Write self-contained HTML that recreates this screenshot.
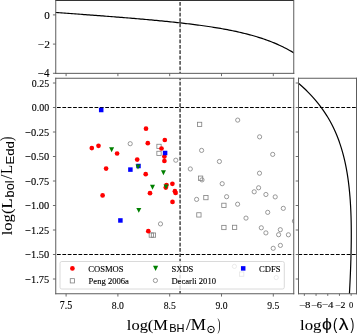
<!DOCTYPE html><html><head><meta charset="utf-8"><title>log(Lbol/LEdd) vs log(MBH/Msun)</title><style>html,body{margin:0;padding:0;background:#fff;overflow:hidden;}svg{display:block;will-change:transform;}</style></head><body>
<svg width="357" height="334" viewBox="0 0 357 334">
<rect x="0" y="0" width="357" height="334" fill="#fff"/>
<defs>
<clipPath id="cm"><rect x="55.75" y="78.25" width="238.00" height="215.50"/></clipPath>
<clipPath id="ct"><rect x="55.75" y="0" width="238.00" height="73.35"/></clipPath>
<clipPath id="cr"><rect x="298.5" y="78.25" width="58.00" height="215.50"/></clipPath>
</defs>
<g clip-path="url(#ct)">
<polyline points="54.50,12.39 56.23,12.51 57.96,12.64 59.69,12.76 61.42,12.88 63.15,13.01 64.88,13.13 66.61,13.26 68.34,13.39 70.07,13.51 71.80,13.64 73.52,13.76 75.25,13.89 76.98,14.02 78.71,14.14 80.44,14.27 82.17,14.40 83.90,14.53 85.63,14.65 87.36,14.78 89.09,14.91 90.82,15.04 92.55,15.17 94.27,15.30 96.00,15.43 97.73,15.56 99.46,15.69 101.19,15.83 102.92,15.96 104.65,16.09 106.38,16.23 108.11,16.36 109.84,16.49 111.57,16.63 113.30,16.77 115.02,16.90 116.75,17.04 118.48,17.18 120.21,17.32 121.94,17.45 123.67,17.59 125.40,17.74 127.13,17.88 128.86,18.02 130.59,18.16 132.32,18.31 134.04,18.45 135.77,18.60 137.50,18.75 139.23,18.90 140.96,19.05 142.69,19.20 144.42,19.35 146.15,19.50 147.88,19.66 149.61,19.81 151.34,19.97 153.07,20.13 154.79,20.29 156.52,20.45 158.25,20.62 159.98,20.78 161.71,20.95 163.44,21.12 165.17,21.29 166.90,21.46 168.63,21.64 170.36,21.82 172.09,22.00 173.82,22.18 175.54,22.36 177.27,22.55 179.00,22.74 180.73,22.93 182.46,23.13 184.19,23.33 185.92,23.53 187.65,23.74 189.38,23.94 191.11,24.16 192.84,24.37 194.57,24.59 196.29,24.81 198.02,25.04 199.75,25.27 201.48,25.51 203.21,25.75 204.94,25.99 206.67,26.24 208.40,26.50 210.13,26.76 211.86,27.02 213.59,27.30 215.32,27.57 217.04,27.86 218.77,28.15 220.50,28.44 222.23,28.75 223.96,29.06 225.69,29.38 227.42,29.70 229.15,30.04 230.88,30.38 232.61,30.73 234.34,31.09 236.06,31.46 237.79,31.84 239.52,32.23 241.25,32.64 242.98,33.05 244.71,33.47 246.44,33.91 248.17,34.35 249.90,34.81 251.63,35.29 253.36,35.78 255.09,36.28 256.81,36.80 258.54,37.33 260.27,37.88 262.00,38.44 263.73,39.03 265.46,39.63 267.19,40.25 268.92,40.89 270.65,41.55 272.38,42.23 274.11,42.93 275.84,43.66 277.56,44.41 279.29,45.19 281.02,45.99 282.75,46.82 284.48,47.67 286.21,48.55 287.94,49.47 289.67,50.41 291.40,51.39 293.13,52.40 294.86,53.45" fill="none" stroke="#000" stroke-width="1.2" stroke-linejoin="round"/>
<line x1="180.06" y1="0.00" x2="180.06" y2="73.35" stroke="#000" stroke-width="1.1" stroke-dasharray="3.748 1.614" stroke-dashoffset="3.320"/>
</g>
<g clip-path="url(#cr)">
<polyline points="349.33,295.62 349.38,294.62 349.44,293.62 349.49,292.62 349.54,291.61 349.59,290.61 349.65,289.61 349.70,288.61 349.75,287.61 349.80,286.61 349.85,285.61 349.89,284.61 349.94,283.61 349.99,282.61 350.04,281.61 350.08,280.61 350.13,279.61 350.17,278.61 350.22,277.61 350.26,276.61 350.30,275.61 350.35,274.61 350.39,273.61 350.43,272.61 350.47,271.61 350.51,270.61 350.55,269.61 350.58,268.61 350.62,267.61 350.66,266.61 350.69,265.61 350.73,264.61 350.76,263.61 350.79,262.61 350.82,261.60 350.86,260.60 350.89,259.60 350.92,258.60 350.94,257.60 350.97,256.60 351.00,255.60 351.02,254.60 351.05,253.60 351.07,252.60 351.09,251.60 351.11,250.60 351.13,249.60 351.15,248.60 351.17,247.60 351.19,246.60 351.20,245.60 351.22,244.60 351.23,243.60 351.24,242.60 351.25,241.60 351.26,240.60 351.27,239.60 351.28,238.60 351.28,237.60 351.28,236.60 351.29,235.60 351.29,234.60 351.29,233.60 351.29,232.60 351.28,231.59 351.28,230.59 351.27,229.59 351.26,228.59 351.25,227.59 351.24,226.59 351.23,225.59 351.21,224.59 351.20,223.59 351.18,222.59 351.16,221.59 351.14,220.59 351.11,219.59 351.09,218.59 351.06,217.59 351.03,216.59 351.00,215.59 350.96,214.59 350.93,213.59 350.89,212.59 350.85,211.59 350.80,210.59 350.76,209.59 350.71,208.59 350.66,207.59 350.61,206.59 350.56,205.59 350.50,204.59 350.44,203.59 350.38,202.59 350.31,201.59 350.25,200.58 350.18,199.58 350.10,198.58 350.03,197.58 349.95,196.58 349.87,195.58 349.78,194.58 349.70,193.58 349.61,192.58 349.51,191.58 349.41,190.58 349.31,189.58 349.21,188.58 349.10,187.58 348.99,186.58 348.88,185.58 348.76,184.58 348.64,183.58 348.52,182.58 348.39,181.58 348.26,180.58 348.12,179.58 347.98,178.58 347.84,177.58 347.69,176.58 347.53,175.58 347.38,174.58 347.22,173.58 347.05,172.58 346.88,171.58 346.70,170.57 346.53,169.57 346.34,168.57 346.15,167.57 345.96,166.57 345.76,165.57 345.55,164.57 345.34,163.57 345.13,162.57 344.91,161.57 344.68,160.57 344.45,159.57 344.21,158.57 343.97,157.57 343.72,156.57 343.47,155.57 343.20,154.57 342.94,153.57 342.66,152.57 342.38,151.57 342.09,150.57 341.80,149.57 341.50,148.57 341.19,147.57 340.87,146.57 340.55,145.57 340.22,144.57 339.88,143.57 339.54,142.57 339.19,141.57 338.83,140.57 338.46,139.56 338.08,138.56 337.69,137.56 337.30,136.56 336.90,135.56 336.48,134.56 336.06,133.56 335.63,132.56 335.19,131.56 334.74,130.56 334.28,129.56 333.81,128.56 333.34,127.56 332.85,126.56 332.35,125.56 331.84,124.56 331.31,123.56 330.78,122.56 330.24,121.56 329.68,120.56 329.11,119.56 328.54,118.56 327.94,117.56 327.34,116.56 326.72,115.56 326.10,114.56 325.45,113.56 324.80,112.56 324.13,111.56 323.45,110.56 322.75,109.55 322.04,108.55 321.31,107.55 320.57,106.55 319.82,105.55 319.05,104.55 318.26,103.55 317.46,102.55 316.64,101.55 315.80,100.55 314.95,99.55 314.08,98.55 313.19,97.55 312.29,96.55 311.37,95.55 310.43,94.55 309.47,93.55 308.49,92.55 307.49,91.55 306.47,90.55 305.43,89.55 304.37,88.55 303.29,87.55 302.19,86.55 301.06,85.55 299.92,84.55 298.75,83.55 297.56,82.55 296.34,81.55 295.11,80.55 293.84,79.54 292.56,78.54 291.24,77.54 289.90,76.54" fill="none" stroke="#000" stroke-width="1.2" stroke-linejoin="round"/>
<line x1="298.50" y1="107.50" x2="356.50" y2="107.50" stroke="#000" stroke-width="1.1" stroke-dasharray="3.748 1.614" stroke-dashoffset="0.100"/>
<line x1="298.50" y1="254.50" x2="356.50" y2="254.50" stroke="#000" stroke-width="1.1" stroke-dasharray="3.748 1.614" stroke-dashoffset="0.100"/>
</g>
<g clip-path="url(#cm)">
<line x1="55.50" y1="107.50" x2="293.75" y2="107.50" stroke="#000" stroke-width="1.1" stroke-dasharray="3.748 1.614" stroke-dashoffset="3.862"/>
<line x1="55.50" y1="254.50" x2="293.75" y2="254.50" stroke="#000" stroke-width="1.1" stroke-dasharray="3.748 1.614" stroke-dashoffset="3.862"/>
<line x1="180.06" y1="78.25" x2="180.06" y2="293.75" stroke="#000" stroke-width="1.1" stroke-dasharray="3.748 1.614" stroke-dashoffset="1.820"/>
<rect x="149.15" y="232.95" width="4.3" height="4.3" fill="none" stroke="#808080" stroke-width="0.8"/>
<rect x="151.30" y="232.95" width="4.3" height="4.3" fill="none" stroke="#808080" stroke-width="0.8"/>
<rect x="156.85" y="144.25" width="4.3" height="4.3" fill="none" stroke="#808080" stroke-width="0.8"/>
<rect x="156.85" y="151.25" width="4.3" height="4.3" fill="none" stroke="#808080" stroke-width="0.8"/>
<rect x="197.45" y="122.25" width="4.3" height="4.3" fill="none" stroke="#808080" stroke-width="0.8"/>
<rect x="198.45" y="176.05" width="4.3" height="4.3" fill="none" stroke="#808080" stroke-width="0.8"/>
<rect x="203.75" y="195.45" width="4.3" height="4.3" fill="none" stroke="#808080" stroke-width="0.8"/>
<rect x="221.75" y="203.20" width="4.3" height="4.3" fill="none" stroke="#808080" stroke-width="0.8"/>
<rect x="196.75" y="212.75" width="4.3" height="4.3" fill="none" stroke="#808080" stroke-width="0.8"/>
<rect x="221.75" y="225.35" width="4.3" height="4.3" fill="none" stroke="#808080" stroke-width="0.8"/>
<rect x="232.45" y="225.25" width="4.3" height="4.3" fill="none" stroke="#808080" stroke-width="0.8"/>
<rect x="239.55" y="271.95" width="4.3" height="4.3" fill="none" stroke="#808080" stroke-width="0.8"/>
<circle cx="130.2" cy="143.7" r="2.1" fill="none" stroke="#808080" stroke-width="0.8"/>
<circle cx="175.8" cy="160.2" r="2.1" fill="none" stroke="#808080" stroke-width="0.8"/>
<circle cx="190.3" cy="168.95" r="2.1" fill="none" stroke="#808080" stroke-width="0.8"/>
<circle cx="201.6" cy="150.4" r="2.1" fill="none" stroke="#808080" stroke-width="0.8"/>
<circle cx="219.4" cy="161.5" r="2.1" fill="none" stroke="#808080" stroke-width="0.8"/>
<circle cx="202.0" cy="179.9" r="2.1" fill="none" stroke="#808080" stroke-width="0.8"/>
<circle cx="222.2" cy="183.7" r="2.1" fill="none" stroke="#808080" stroke-width="0.8"/>
<circle cx="196.6" cy="199.4" r="2.1" fill="none" stroke="#808080" stroke-width="0.8"/>
<circle cx="226.6" cy="196.7" r="2.1" fill="none" stroke="#808080" stroke-width="0.8"/>
<circle cx="237.7" cy="120.1" r="2.1" fill="none" stroke="#808080" stroke-width="0.8"/>
<circle cx="259.6" cy="136.85" r="2.1" fill="none" stroke="#808080" stroke-width="0.8"/>
<circle cx="272.7" cy="154.4" r="2.1" fill="none" stroke="#808080" stroke-width="0.8"/>
<circle cx="259.5" cy="173.2" r="2.1" fill="none" stroke="#808080" stroke-width="0.8"/>
<circle cx="258.6" cy="187.8" r="2.1" fill="none" stroke="#808080" stroke-width="0.8"/>
<circle cx="254.2" cy="191.8" r="2.1" fill="none" stroke="#808080" stroke-width="0.8"/>
<circle cx="265.9" cy="194.5" r="2.1" fill="none" stroke="#808080" stroke-width="0.8"/>
<circle cx="275.2" cy="196.9" r="2.1" fill="none" stroke="#808080" stroke-width="0.8"/>
<circle cx="237.6" cy="204.2" r="2.1" fill="none" stroke="#808080" stroke-width="0.8"/>
<circle cx="283.3" cy="208.35" r="2.1" fill="none" stroke="#808080" stroke-width="0.8"/>
<circle cx="267.7" cy="212.35" r="2.1" fill="none" stroke="#808080" stroke-width="0.8"/>
<circle cx="246.0" cy="218.1" r="2.1" fill="none" stroke="#808080" stroke-width="0.8"/>
<circle cx="261.3" cy="227.8" r="2.1" fill="none" stroke="#808080" stroke-width="0.8"/>
<circle cx="265.9" cy="232.9" r="2.1" fill="none" stroke="#808080" stroke-width="0.8"/>
<circle cx="280.3" cy="229.7" r="2.1" fill="none" stroke="#808080" stroke-width="0.8"/>
<circle cx="278.6" cy="234.7" r="2.1" fill="none" stroke="#808080" stroke-width="0.8"/>
<circle cx="288.4" cy="234.8" r="2.1" fill="none" stroke="#808080" stroke-width="0.8"/>
<circle cx="280.4" cy="245.4" r="2.1" fill="none" stroke="#808080" stroke-width="0.8"/>
<circle cx="273.2" cy="248.3" r="2.1" fill="none" stroke="#808080" stroke-width="0.8"/>
<circle cx="294.4" cy="221.1" r="2.1" fill="none" stroke="#808080" stroke-width="0.8"/>
<circle cx="160.5" cy="223.9" r="2.1" fill="none" stroke="#808080" stroke-width="0.8"/>
<circle cx="234.4" cy="266.4" r="2.1" fill="none" stroke="#808080" stroke-width="0.8"/>
<circle cx="276.2" cy="277.6" r="2.1" fill="none" stroke="#808080" stroke-width="0.8"/>
<circle cx="91.8" cy="148.1" r="2.35" fill="#ff0000"/>
<circle cx="98.5" cy="145.8" r="2.35" fill="#ff0000"/>
<circle cx="117.1" cy="153.5" r="2.35" fill="#ff0000"/>
<circle cx="106.1" cy="168.6" r="2.35" fill="#ff0000"/>
<circle cx="146.0" cy="128.7" r="2.35" fill="#ff0000"/>
<circle cx="164.8" cy="140.0" r="2.35" fill="#ff0000"/>
<circle cx="147.8" cy="143.2" r="2.35" fill="#ff0000"/>
<circle cx="161.5" cy="148.5" r="2.35" fill="#ff0000"/>
<circle cx="164.4" cy="156.6" r="2.35" fill="#ff0000"/>
<circle cx="164.4" cy="161.0" r="2.35" fill="#ff0000"/>
<circle cx="137.2" cy="159.6" r="2.35" fill="#ff0000"/>
<circle cx="145.7" cy="174.2" r="2.35" fill="#ff0000"/>
<circle cx="150.0" cy="193.2" r="2.35" fill="#ff0000"/>
<circle cx="166.5" cy="185.0" r="2.35" fill="#ff0000"/>
<circle cx="165.8" cy="187.6" r="2.35" fill="#ff0000"/>
<circle cx="172.4" cy="183.8" r="2.35" fill="#ff0000"/>
<circle cx="174.9" cy="191.2" r="2.35" fill="#ff0000"/>
<circle cx="175.6" cy="192.9" r="2.35" fill="#ff0000"/>
<circle cx="172.5" cy="201.9" r="2.35" fill="#ff0000"/>
<circle cx="148.3" cy="231.2" r="2.35" fill="#ff0000"/>
<circle cx="102.6" cy="195.45" r="2.35" fill="#ff0000"/>
<rect x="98.95" y="107.75" width="4.5" height="4.5" fill="#0000ff"/>
<rect x="162.85" y="150.75" width="4.5" height="4.5" fill="#0000ff"/>
<rect x="136.25" y="163.75" width="4.5" height="4.5" fill="#0000ff"/>
<rect x="128.15" y="167.35" width="4.5" height="4.5" fill="#0000ff"/>
<rect x="118.15" y="218.20" width="4.5" height="4.5" fill="#0000ff"/>
<polygon points="109.10,147.30 114.10,147.30 111.60,152.20" fill="#008000"/>
<polygon points="135.50,164.55 140.50,164.55 138.00,169.45" fill="#008000"/>
<polygon points="160.95,170.35 165.95,170.35 163.45,175.25" fill="#008000"/>
<polygon points="150.00,184.80 155.00,184.80 152.50,189.70" fill="#008000"/>
<polygon points="163.50,184.45 168.50,184.45 166.00,189.35" fill="#008000"/>
<polygon points="136.30,207.95 141.30,207.95 138.80,212.85" fill="#008000"/>
</g>
<rect x="60.0" y="261.5" width="224.30" height="27.50" rx="1.8" ry="1.8" fill="#fff" fill-opacity="0.8" stroke="#d0d0d0" stroke-width="0.8"/>
<circle cx="72.4" cy="268.4" r="2.35" fill="#ff0000"/>
<rect x="70.25" y="278.65" width="4.3" height="4.3" fill="none" stroke="#808080" stroke-width="0.8"/>
<polygon points="153.00,265.70 158.20,265.70 155.60,270.90" fill="#008000"/>
<circle cx="155.4" cy="280.5" r="2.1" fill="none" stroke="#808080" stroke-width="0.8"/>
<rect x="240.95" y="266.15" width="4.5" height="4.5" fill="#0000ff"/>
<text x="88.2" y="271.5" font-family='"Liberation Serif", serif' font-size="8.6" text-anchor="start" fill="#000" stroke="#000" stroke-width="0.12">COSMOS</text>
<text x="88.6" y="283.5" font-family='"Liberation Serif", serif' font-size="8.6" text-anchor="start" fill="#000" stroke="#000" stroke-width="0.12">Peng 2006a</text>
<text x="171.4" y="271.5" font-family='"Liberation Serif", serif' font-size="8.6" text-anchor="start" fill="#000" stroke="#000" stroke-width="0.12">SXDS</text>
<text x="171.4" y="283.5" font-family='"Liberation Serif", serif' font-size="8.6" text-anchor="start" fill="#000" stroke="#000" stroke-width="0.12">Decarli 2010</text>
<text x="259.1" y="271.5" font-family='"Liberation Serif", serif' font-size="8.6" text-anchor="start" fill="#000" stroke="#000" stroke-width="0.12">CDFS</text>
<rect x="55.3" y="0" width="238.7" height="1" fill="#333"/>
<line x1="55.75" y1="0.00" x2="55.75" y2="73.35" stroke="#5c5c5c" stroke-width="1.0" stroke-linecap="square"/>
<line x1="293.75" y1="0.00" x2="293.75" y2="73.35" stroke="#5c5c5c" stroke-width="1.0" stroke-linecap="square"/>
<line x1="55.75" y1="73.35" x2="293.75" y2="73.35" stroke="#5c5c5c" stroke-width="1.0" stroke-linecap="square"/>
<line x1="55.75" y1="78.25" x2="293.75" y2="78.25" stroke="#5c5c5c" stroke-width="1.0" stroke-linecap="square"/>
<line x1="55.75" y1="293.75" x2="293.75" y2="293.75" stroke="#5c5c5c" stroke-width="1.0" stroke-linecap="square"/>
<line x1="55.75" y1="78.25" x2="55.75" y2="293.75" stroke="#5c5c5c" stroke-width="1.0" stroke-linecap="square"/>
<line x1="293.75" y1="78.25" x2="293.75" y2="293.75" stroke="#5c5c5c" stroke-width="1.0" stroke-linecap="square"/>
<line x1="298.50" y1="78.25" x2="356.50" y2="78.25" stroke="#5c5c5c" stroke-width="1.0" stroke-linecap="square"/>
<line x1="298.50" y1="293.75" x2="356.50" y2="293.75" stroke="#5c5c5c" stroke-width="1.0" stroke-linecap="square"/>
<line x1="298.50" y1="78.25" x2="298.50" y2="293.75" stroke="#5c5c5c" stroke-width="1.0" stroke-linecap="square"/>
<line x1="356.50" y1="78.25" x2="356.50" y2="293.75" stroke="#5c5c5c" stroke-width="1.0" stroke-linecap="square"/>
<line x1="66.10" y1="293.75" x2="66.10" y2="296.55" stroke="#5c5c5c" stroke-width="0.9"/>
<line x1="66.10" y1="73.35" x2="66.10" y2="76.15" stroke="#5c5c5c" stroke-width="0.9"/>
<line x1="117.90" y1="293.75" x2="117.90" y2="296.55" stroke="#5c5c5c" stroke-width="0.9"/>
<line x1="117.90" y1="73.35" x2="117.90" y2="76.15" stroke="#5c5c5c" stroke-width="0.9"/>
<line x1="169.70" y1="293.75" x2="169.70" y2="296.55" stroke="#5c5c5c" stroke-width="0.9"/>
<line x1="169.70" y1="73.35" x2="169.70" y2="76.15" stroke="#5c5c5c" stroke-width="0.9"/>
<line x1="221.50" y1="293.75" x2="221.50" y2="296.55" stroke="#5c5c5c" stroke-width="0.9"/>
<line x1="221.50" y1="73.35" x2="221.50" y2="76.15" stroke="#5c5c5c" stroke-width="0.9"/>
<line x1="273.30" y1="293.75" x2="273.30" y2="296.55" stroke="#5c5c5c" stroke-width="0.9"/>
<line x1="273.30" y1="73.35" x2="273.30" y2="76.15" stroke="#5c5c5c" stroke-width="0.9"/>
<line x1="52.95" y1="83.00" x2="55.75" y2="83.00" stroke="#5c5c5c" stroke-width="0.9"/>
<line x1="295.70" y1="83.00" x2="298.50" y2="83.00" stroke="#5c5c5c" stroke-width="0.9"/>
<line x1="52.95" y1="107.50" x2="55.75" y2="107.50" stroke="#5c5c5c" stroke-width="0.9"/>
<line x1="295.70" y1="107.50" x2="298.50" y2="107.50" stroke="#5c5c5c" stroke-width="0.9"/>
<line x1="52.95" y1="132.00" x2="55.75" y2="132.00" stroke="#5c5c5c" stroke-width="0.9"/>
<line x1="295.70" y1="132.00" x2="298.50" y2="132.00" stroke="#5c5c5c" stroke-width="0.9"/>
<line x1="52.95" y1="156.50" x2="55.75" y2="156.50" stroke="#5c5c5c" stroke-width="0.9"/>
<line x1="295.70" y1="156.50" x2="298.50" y2="156.50" stroke="#5c5c5c" stroke-width="0.9"/>
<line x1="52.95" y1="181.00" x2="55.75" y2="181.00" stroke="#5c5c5c" stroke-width="0.9"/>
<line x1="295.70" y1="181.00" x2="298.50" y2="181.00" stroke="#5c5c5c" stroke-width="0.9"/>
<line x1="52.95" y1="205.50" x2="55.75" y2="205.50" stroke="#5c5c5c" stroke-width="0.9"/>
<line x1="295.70" y1="205.50" x2="298.50" y2="205.50" stroke="#5c5c5c" stroke-width="0.9"/>
<line x1="52.95" y1="230.00" x2="55.75" y2="230.00" stroke="#5c5c5c" stroke-width="0.9"/>
<line x1="295.70" y1="230.00" x2="298.50" y2="230.00" stroke="#5c5c5c" stroke-width="0.9"/>
<line x1="52.95" y1="254.50" x2="55.75" y2="254.50" stroke="#5c5c5c" stroke-width="0.9"/>
<line x1="295.70" y1="254.50" x2="298.50" y2="254.50" stroke="#5c5c5c" stroke-width="0.9"/>
<line x1="52.95" y1="279.00" x2="55.75" y2="279.00" stroke="#5c5c5c" stroke-width="0.9"/>
<line x1="295.70" y1="279.00" x2="298.50" y2="279.00" stroke="#5c5c5c" stroke-width="0.9"/>
<line x1="52.95" y1="14.90" x2="55.75" y2="14.90" stroke="#5c5c5c" stroke-width="0.9"/>
<line x1="52.95" y1="44.10" x2="55.75" y2="44.10" stroke="#5c5c5c" stroke-width="0.9"/>
<line x1="52.95" y1="73.30" x2="55.75" y2="73.30" stroke="#5c5c5c" stroke-width="0.9"/>
<line x1="304.35" y1="293.75" x2="304.35" y2="295.85" stroke="#5c5c5c" stroke-width="0.9"/>
<line x1="316.05" y1="293.75" x2="316.05" y2="295.85" stroke="#5c5c5c" stroke-width="0.9"/>
<line x1="327.75" y1="293.75" x2="327.75" y2="295.85" stroke="#5c5c5c" stroke-width="0.9"/>
<line x1="339.45" y1="293.75" x2="339.45" y2="295.85" stroke="#5c5c5c" stroke-width="0.9"/>
<line x1="351.15" y1="293.75" x2="351.15" y2="295.85" stroke="#5c5c5c" stroke-width="0.9"/>
<text transform="translate(31.82,86.80) scale(0.970,1)" x="0" y="0" font-family='"Liberation Serif", serif' font-size="10.22" fill="#000" stroke="#000" stroke-width="0.12">0.25</text>
<text transform="translate(31.82,111.30) scale(0.970,1)" x="0" y="0" font-family='"Liberation Serif", serif' font-size="10.22" fill="#000" stroke="#000" stroke-width="0.12">0.00</text>
<text transform="translate(25.18,135.80) scale(1.015,1)" x="0" y="0" font-family='"Liberation Serif", serif' font-size="10.22" fill="#000" stroke="#000" stroke-width="0.12">−0.25</text>
<text transform="translate(25.18,160.30) scale(1.015,1)" x="0" y="0" font-family='"Liberation Serif", serif' font-size="10.22" fill="#000" stroke="#000" stroke-width="0.12">−0.50</text>
<text transform="translate(25.18,184.80) scale(1.015,1)" x="0" y="0" font-family='"Liberation Serif", serif' font-size="10.22" fill="#000" stroke="#000" stroke-width="0.12">−0.75</text>
<text transform="translate(25.18,209.30) scale(1.015,1)" x="0" y="0" font-family='"Liberation Serif", serif' font-size="10.22" fill="#000" stroke="#000" stroke-width="0.12">−1.00</text>
<text transform="translate(25.18,233.80) scale(1.011,1)" x="0" y="0" font-family='"Liberation Serif", serif' font-size="10.27" fill="#000" stroke="#000" stroke-width="0.12">−1.25</text>
<text transform="translate(25.18,258.30) scale(1.015,1)" x="0" y="0" font-family='"Liberation Serif", serif' font-size="10.22" fill="#000" stroke="#000" stroke-width="0.12">−1.50</text>
<text transform="translate(25.18,282.80) scale(1.008,1)" x="0" y="0" font-family='"Liberation Serif", serif' font-size="10.30" fill="#000" stroke="#000" stroke-width="0.12">−1.75</text>
<text transform="translate(44.18,18.85) scale(0.977,1)" x="0" y="0" font-family='"Liberation Serif", serif' font-size="11.35" fill="#000" stroke="#000" stroke-width="0.12">0</text>
<text transform="translate(37.73,48.05) scale(1.006,1)" x="0" y="0" font-family='"Liberation Serif", serif' font-size="11.40" fill="#000" stroke="#000" stroke-width="0.12">−2</text>
<text transform="translate(37.75,77.25) scale(0.960,1)" x="0" y="0" font-family='"Liberation Serif", serif' font-size="11.47" fill="#000" stroke="#000" stroke-width="0.12">−4</text>
<text transform="translate(59.74,308.90) scale(0.869,1)" x="0" y="0" font-family='"Liberation Serif", serif' font-size="11.45" fill="#000" stroke="#000" stroke-width="0.12">7.5</text>
<text transform="translate(111.83,308.90) scale(0.861,1)" x="0" y="0" font-family='"Liberation Serif", serif' font-size="11.28" fill="#000" stroke="#000" stroke-width="0.12">8.0</text>
<text transform="translate(163.63,308.90) scale(0.862,1)" x="0" y="0" font-family='"Liberation Serif", serif' font-size="11.28" fill="#000" stroke="#000" stroke-width="0.12">8.5</text>
<text transform="translate(215.49,308.90) scale(0.857,1)" x="0" y="0" font-family='"Liberation Serif", serif' font-size="11.28" fill="#000" stroke="#000" stroke-width="0.12">9.0</text>
<text transform="translate(267.29,308.90) scale(0.854,1)" x="0" y="0" font-family='"Liberation Serif", serif' font-size="11.33" fill="#000" stroke="#000" stroke-width="0.12">9.5</text>
<text transform="translate(298.91,308.30) scale(1.214,1)" x="0" y="0" font-family='"Liberation Serif", serif' font-size="8.95" fill="#000" stroke="#000" stroke-width="0.12">−8</text>
<text transform="translate(310.93,308.30) scale(1.153,1)" x="0" y="0" font-family='"Liberation Serif", serif' font-size="8.99" fill="#000" stroke="#000" stroke-width="0.12">−6</text>
<text transform="translate(321.81,308.30) scale(1.208,1)" x="0" y="0" font-family='"Liberation Serif", serif' font-size="9.04" fill="#000" stroke="#000" stroke-width="0.12">−4</text>
<text transform="translate(334.96,308.30) scale(1.091,1)" x="0" y="0" font-family='"Liberation Serif", serif' font-size="8.99" fill="#000" stroke="#000" stroke-width="0.12">−2</text>
<text transform="translate(349.03,308.30) scale(0.949,1)" x="0" y="0" font-family='"Liberation Serif", serif' font-size="8.95" fill="#000" stroke="#000" stroke-width="0.12">0</text>
<text transform="translate(126.87,329.90) scale(1.097,1)" x="0" y="0" font-family='"Liberation Serif", serif' font-size="14.99" fill="#000" stroke="#000" stroke-width="0.06">log(M</text>
<text transform="translate(169.20,332.00) scale(1.067,1)" x="0" y="0" font-family='"Liberation Sans", sans-serif' font-size="10.32" fill="#000" stroke="#000" stroke-width="0.06">BH</text>
<text transform="translate(186.00,329.90) scale(1.022,1)" x="0" y="0" font-family='"Liberation Serif", serif' font-size="16.69" fill="#000" stroke="#000" stroke-width="0.06">/M</text>
<text transform="translate(217.62,329.90) scale(0.512,1)" x="0" y="0" font-family='"Liberation Serif", serif' font-size="16.72" fill="#000" stroke="#000" stroke-width="0.06">)</text>
<circle cx="211.0" cy="329.5" r="3.25" fill="none" stroke="#000" stroke-width="1.0"/><circle cx="210.9" cy="329.5" r="0.8" fill="#000"/>
<g transform="rotate(-90)">
<text transform="translate(-235.33,11.80) scale(1.068,1)" x="0" y="0" font-family='"Liberation Serif", serif' font-size="15.57" fill="#000" stroke="#000" stroke-width="0.06">log(L</text>
<text transform="translate(-197.42,14.40) scale(1.047,1)" x="0" y="0" font-family='"Liberation Sans", sans-serif' font-size="12.14" fill="#000" >bol</text>
<text transform="translate(-179.20,11.80) scale(0.992,1)" x="0" y="0" font-family='"Liberation Serif", serif' font-size="16.69" fill="#000" stroke="#000" stroke-width="0.06">/</text>
<text transform="translate(-174.12,11.80) scale(0.938,1)" x="0" y="0" font-family='"Liberation Serif", serif' font-size="15.73" fill="#000" stroke="#000" stroke-width="0.06">L</text>
<text transform="translate(-164.48,13.90) scale(1.144,1)" x="0" y="0" font-family='"Liberation Sans", sans-serif' font-size="11.45" fill="#000" >Edd</text>
<text transform="translate(-140.69,11.80) scale(0.748,1)" x="0" y="0" font-family='"Liberation Serif", serif' font-size="16.14" fill="#000" stroke="#000" stroke-width="0.06">)</text>
</g>
<text transform="translate(300.06,330.00) scale(1.110,1)" x="0" y="0" font-family='"Liberation Serif", serif' font-size="15.13" fill="#000" stroke="#000" stroke-width="0.06">log</text>
<text transform="translate(322.11,330.00) scale(1.092,1)" x="0" y="0" font-family='"Liberation Sans", sans-serif' font-size="16.15" fill="#000" stroke="#000" stroke-width="0.06">ϕ</text>
<text transform="translate(333.10,330.00) scale(0.794,1)" x="0" y="0" font-family='"Liberation Sans", sans-serif' font-size="16.15" fill="#000" stroke="#000" stroke-width="0.06">(</text>
<text transform="translate(338.77,329.60) scale(1.258,1)" x="0" y="0" font-family='"Liberation Sans", sans-serif' font-size="15.59" fill="#000" stroke="#000" stroke-width="0.06">λ</text>
<text transform="translate(350.43,330.00) scale(0.701,1)" x="0" y="0" font-family='"Liberation Sans", sans-serif' font-size="16.15" fill="#000" stroke="#000" stroke-width="0.06">)</text>
</svg></body></html>
